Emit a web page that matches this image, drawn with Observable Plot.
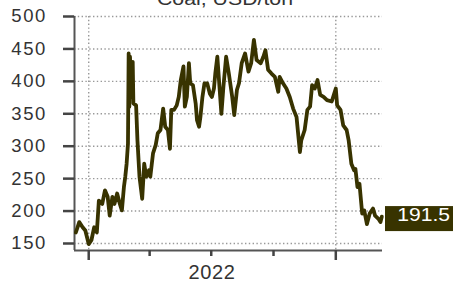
<!DOCTYPE html>
<html><head><meta charset="utf-8">
<script src="https://cdn.jsdelivr.net/npm/d3@7"></script>
<script src="https://cdn.jsdelivr.net/npm/@observablehq/plot@0.6"></script>
<style>
body{margin:0;background:#fff;overflow:hidden}
#wrap{position:relative;width:453px;height:285px}
#title{position:absolute;left:0;width:450px;text-align:center;top:-13px;font:19px "Liberation Sans",Arial,sans-serif;line-height:24px;color:#333;z-index:2;transform:scaleX(1.12);transform-origin:225px 50%}
g[aria-label="y-axis tick label"] text{letter-spacing:1.6px}
g[aria-label="x-axis tick label"] text{letter-spacing:0.6px}
text.badge{transform-box:fill-box;transform-origin:100% 50%;transform:scaleX(1.14)}
</style></head><body>
<div id="wrap"><div id="title"></div><div id="chart"></div></div>
<script>
const title = "Coal, USD/ton";
const dates = [
"2021-12-13","2021-12-18","2021-12-23","2021-12-27","2022-01-01","2022-01-05","2022-01-09","2022-01-13",
"2022-01-16","2022-01-21","2022-01-25","2022-01-29","2022-02-01","2022-02-05","2022-02-08","2022-02-12",
"2022-02-16","2022-02-19","2022-02-22","2022-02-24","2022-02-26","2022-02-28","2022-03-01","2022-03-02",
"2022-03-03","2022-03-05","2022-03-07","2022-03-08","2022-03-12","2022-03-14","2022-03-17","2022-03-21",
"2022-03-24","2022-03-27","2022-03-31","2022-04-02","2022-04-06","2022-04-10","2022-04-13","2022-04-17",
"2022-04-21","2022-04-24","2022-04-28","2022-05-01","2022-05-03","2022-05-07","2022-05-11","2022-05-14",
"2022-05-17","2022-05-21","2022-05-23","2022-05-26","2022-05-29","2022-05-31","2022-06-04","2022-06-08",
"2022-06-10","2022-06-13","2022-06-15","2022-06-18","2022-06-21","2022-06-25","2022-06-29","2022-07-02",
"2022-07-05","2022-07-07","2022-07-10","2022-07-16","2022-07-19","2022-07-23","2022-07-27","2022-08-01",
"2022-08-04","2022-08-08","2022-08-11","2022-08-15","2022-08-20","2022-08-25","2022-08-29","2022-09-02",
"2022-09-06","2022-09-12","2022-09-16","2022-09-19","2022-09-23","2022-09-28","2022-10-03","2022-10-08",
"2022-10-10","2022-10-15","2022-10-20","2022-10-25","2022-10-30","2022-11-04","2022-11-09","2022-11-11",
"2022-11-16","2022-11-20","2022-11-24","2022-11-27","2022-12-01","2022-12-05","2022-12-09","2022-12-14",
"2022-12-19","2022-12-26","2023-01-01","2023-01-03","2023-01-08","2023-01-12","2023-01-17","2023-01-20",
"2023-01-24","2023-01-28","2023-01-30","2023-02-02","2023-02-05","2023-02-09","2023-02-12","2023-02-16",
"2023-02-20","2023-02-25","2023-02-28","2023-03-05","2023-03-08","2023-03-10"
];
const prices = [
167,183,175,170,149,155,175,167,
216,211,232,222,193,222,211,227,
211,201,237,253,273,304,443,361,
438,376,430,366,363,309,253,219,
273,253,263,253,289,302,320,325,
358,330,325,296,356,356,363,376,
402,423,361,376,428,397,394,366,
340,330,345,376,397,397,381,376,
389,412,438,350,392,438,412,376,
348,387,397,428,443,415,428,464,
433,428,438,448,418,412,407,384,
407,397,389,376,358,345,291,309,
325,356,361,394,389,402,379,376,
371,369,389,363,356,332,325,309,
273,263,265,237,242,196,201,180,
196,204,193,188,183,191.5
];
const yTicks = [150,200,250,300,350,400,450,500];
const yearTicks = ["2022-01-01","2023-01-01"];
const quarterTicks = ["2022-04-01","2022-07-01","2022-10-01"];
const yearLabelDates = ["2022-07-02"];
const yearLabels = ["2022"];
const xDomain = ["2021-12-11","2023-03-11"];
const yDomain = [139.2, 500];
const lastLabel = "191.5";

document.getElementById("title").textContent = title;
const D = s => new Date(s + "T00:00:00Z");
const lineColor = "#383300";

function badge(value, label) {
  return (index, scales, values, dims) => {
    const y = scales.y(value);
    const g = d3.create("svg:g");
    g.append("rect").attr("x", dims.width - 68).attr("y", y - 10).attr("width", 68).attr("height", 25).attr("fill", lineColor);
    g.append("text").attr("class", "badge").attr("x", dims.width - 3).attr("y", y + 4.5).attr("text-anchor", "end")
      .attr("fill", "#fff").attr("font-size", 18.5).text(label);
    return g.node();
  };
}

const grid = {stroke: "#999", strokeOpacity: 1, strokeWidth: 1.4, strokeDasharray: "1.4,2.4"};
const chart = Plot.plot({
  width: 453, height: 285,
  marginLeft: 74, marginRight: 71, marginTop: 16, marginBottom: 35,
  style: {fontFamily: "'Liberation Sans', Arial, sans-serif", fontSize: "18.5px", color: "#333", background: "white", overflow: "visible"},
  x: {type: "utc", domain: xDomain.map(D)},
  y: {domain: yDomain},
  marks: [
    Plot.gridY(yTicks, grid),
    Plot.gridX(yearTicks.map(D), grid),
    Plot.ruleX([D(xDomain[0])], {stroke: "#555", strokeWidth: 2}),
    Plot.ruleY([yDomain[0]], {stroke: "#555", strokeWidth: 2}),
    Plot.axisY(yTicks, {tickSize: 11, tickPadding: 16.5, stroke: "#444", strokeWidth: 2.5, fill: "#333"}),
    Plot.axisX(yearTicks.map(D), {tickSize: 10, tickFormat: () => "", stroke: "#444", strokeWidth: 2.5}),
    Plot.axisX(quarterTicks.map(D), {tickSize: 6, tickFormat: () => "", stroke: "#444", strokeWidth: 2.5}),
    Plot.axisX(yearLabelDates.map(D), {tickSize: 0, tickPadding: 14, tickFormat: (d, i) => yearLabels[i], fontSize: 20, fill: "#333"}),
    Plot.line(prices, {x: (d, i) => D(dates[i]), y: d => d, stroke: lineColor, strokeWidth: 3.8, strokeLinejoin: "round"}),
    badge(prices[prices.length - 1], lastLabel)
  ]
});
document.getElementById("chart").appendChild(chart);
</script>
</body></html>
